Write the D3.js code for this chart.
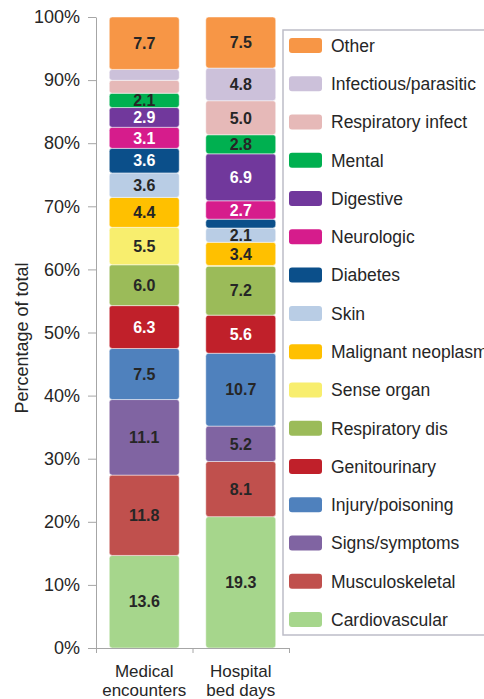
<!DOCTYPE html>
<html>
<head>
<meta charset="utf-8">
<script src="https://cdn.jsdelivr.net/npm/d3@7"></script>
<style>
body { margin: 0; background: #fff; font-family: "Liberation Sans", Arial, sans-serif; }
</style>
</head>
<body>
<script>
// categories, bottom of the stack first
var groups = ["Medical encounters", "Hospital bed days"];
var groupLines = [["Medical", "encounters"], ["Hospital", "bed days"]];
var causes = ["Cardiovascular", "Musculoskeletal", "Signs/symptoms", "Injury/poisoning",
    "Genitourinary", "Respiratory dis", "Sense organ", "Malignant neoplasm", "Skin",
    "Diabetes", "Neurologic", "Digestive", "Mental", "Respiratory infect",
    "Infectious/parasitic", "Other"];
var medical = [13.6, 11.8, 11.1, 7.5, 6.3, 6.0, 5.5, 4.4, 3.6, 3.6, 3.1, 2.9, 2.1, 1.9, 1.6, 7.7];
var hospital = [19.3, 8.1, 5.2, 10.7, 5.6, 7.2, 0.1, 3.4, 2.1, 1.3, 2.7, 6.9, 2.8, 5.0, 4.8, 7.5];
var colors = ["#a6d68c", "#c0504d", "#8064a2", "#4f81bd", "#c0202a", "#9bbb59", "#f8ee6e",
    "#ffc000", "#b9cde5", "#0b4f8a", "#d61c8c", "#71389c", "#00b050", "#e6b9b8",
    "#ccc1da", "#f79646"];
var whiteText = ["Genitourinary", "Diabetes", "Neurologic", "Digestive"];
var yTicks = [0, 0.1, 0.2, 0.3, 0.4, 0.5, 0.6, 0.7, 0.8, 0.9, 1];

var width = 484, height = 699;
var plotTop = 17, plotBottom = 648, plotLeft = 96, plotRight = 289;

var table = groups.map(function (g, i) {
    var row = {group: g};
    var vals = i === 0 ? medical : hospital;
    causes.forEach(function (c, j) { row[c] = vals[j]; });
    return row;
});

var series = d3.stack()
    .keys(causes)
    .offset(d3.stackOffsetExpand)(table);

var color = d3.scaleOrdinal().domain(causes).range(colors);

var x = d3.scaleBand()
    .domain(groups)
    .range([plotLeft, plotRight])
    .paddingInner(0.275)
    .paddingOuter(0.1375);

var xCell = d3.scaleLinear()
    .domain([0, groups.length])
    .range([plotLeft, plotRight]);

var y = d3.scaleLinear()
    .domain([0, 1])
    .range([plotBottom, plotTop]);

var svg = d3.select("body").append("svg")
    .attr("width", width)
    .attr("height", height)
    .style("font-family", "'Liberation Sans', Arial, sans-serif");

// bars
var layer = svg.append("g").selectAll("g")
    .data(series)
    .enter().append("g")
    .attr("fill", function (d) { return color(d.key); });

layer.selectAll("rect")
    .data(function (d) { return d; })
    .enter().append("rect")
    .attr("x", function (d) { return x(d.data.group); })
    .attr("y", function (d) { return y(d[1]); })
    .attr("width", x.bandwidth())
    .attr("height", function (d) { return Math.max(0, y(d[0]) - y(d[1])); })
    .attr("rx", 3)
    .attr("stroke", "#fff")
    .attr("stroke-opacity", 0.6)
    .attr("stroke-width", 0.8);

// value labels
series.forEach(function (s, j) {
    s.forEach(function (d) {
        var v = d.data[s.key];
        if (v < 2) return;
        svg.append("text")
            .attr("x", x(d.data.group) + x.bandwidth() / 2)
            .attr("y", (y(d[0]) + y(d[1])) / 2)
            .attr("dy", "0.36em")
            .attr("text-anchor", "middle")
            .style("font-size", "16px")
            .style("font-weight", "bold")
            .attr("fill", whiteText.indexOf(s.key) >= 0 ? "#fff" : "#262626")
            .text(v.toFixed(1));
    });
});

// y axis
var yAxis = svg.append("g")
    .attr("transform", "translate(" + plotLeft + ",0)")
    .call(d3.axisLeft(y)
        .tickValues(yTicks)
        .tickFormat(d3.format(".0%"))
        .tickSize(8)
        .tickSizeOuter(0)
        .tickPadding(8));
yAxis.selectAll("path, line").attr("stroke", "#a6a6a6");
yAxis.selectAll("text")
    .style("font-size", "18px")
    .style("font-family", "'Liberation Sans', Arial, sans-serif")
    .attr("fill", "#262626");

// x axis, ticks between categories
var xAxis = svg.append("g")
    .attr("transform", "translate(0," + plotBottom + ")")
    .call(d3.axisBottom(xCell)
        .tickValues(d3.range(groups.length + 1))
        .tickFormat("")
        .tickSize(5)
        .tickSizeOuter(0));
xAxis.selectAll("path, line").attr("stroke", "#a6a6a6");

groups.forEach(function (g, i) {
    var t = svg.append("text")
        .attr("x", x(g) + x.bandwidth() / 2)
        .attr("y", 677)
        .attr("text-anchor", "middle")
        .style("font-size", "17px")
        .attr("fill", "#262626");
    groupLines[i].forEach(function (line, k) {
        t.append("tspan")
            .attr("x", x(g) + x.bandwidth() / 2)
            .attr("dy", k === 0 ? 0 : 19)
            .text(line);
    });
});

// y axis title
svg.append("text")
    .attr("transform", "translate(22,338) rotate(-90)")
    .attr("text-anchor", "middle")
    .attr("dy", "0.36em")
    .style("font-size", "18px")
    .attr("fill", "#262626")
    .text("Percentage of total");

// legend
var legendCauses = causes.slice().reverse();
var legend = svg.append("g").attr("transform", "translate(283,30)");
legend.append("rect")
    .attr("width", 240)
    .attr("height", 605)
    .attr("fill", "#fff")
    .attr("stroke", "#bdbdc8")
    .attr("stroke-width", 1.5);

var item = legend.selectAll("g.item")
    .data(legendCauses)
    .enter().append("g")
    .attr("class", "item")
    .attr("transform", function (d, i) { return "translate(0," + (15.5 + i * 38.27) + ")"; });

item.append("rect")
    .attr("x", 6)
    .attr("y", -7.5)
    .attr("width", 33)
    .attr("height", 15)
    .attr("rx", 3)
    .attr("fill", function (d) { return color(d); });

item.append("text")
    .attr("x", 48)
    .attr("dy", "0.36em")
    .style("font-size", "17.5px")
    .attr("fill", "#262626")
    .text(function (d) { return d; });
</script>
</body>
</html>
